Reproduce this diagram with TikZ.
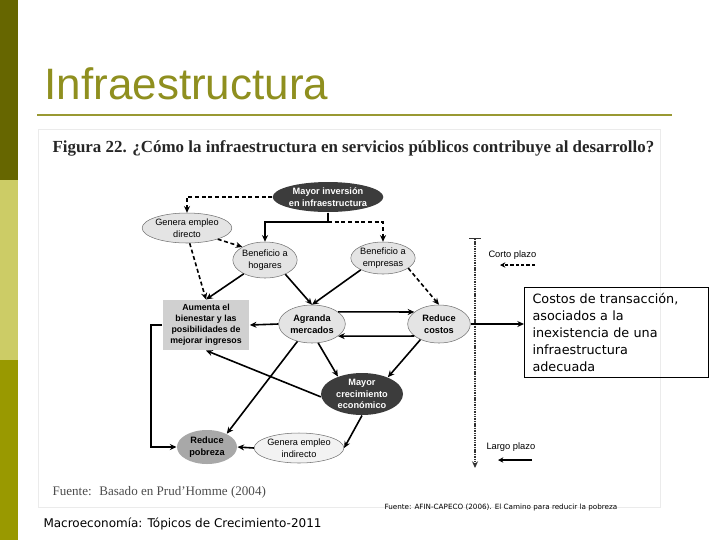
\documentclass[tikz,border=0pt]{standalone}
\usepackage{fontspec}
\setmainfont{Liberation Sans}
\newfontfamily\figserif{Liberation Serif}
\newfontfamily\verdfont{DejaVu Sans}
\usetikzlibrary{shapes.geometric,arrows.meta}

\definecolor{olivedark}{RGB}{102,102,0}
\definecolor{olivelight}{RGB}{204,204,102}
\definecolor{olivemid}{RGB}{153,153,0}
\definecolor{titleolive}{RGB}{143,143,31}
\definecolor{ruleolive}{RGB}{153,153,51}
\definecolor{nodedark}{RGB}{60,60,60}
\definecolor{nodelight}{RGB}{228,228,228}
\definecolor{nodemid}{RGB}{168,168,168}
\definecolor{boxgrey}{RGB}{208,208,208}

\tikzset{every picture/.style={line width=0.75pt}}
\tikzset{
  darkell/.style={ellipse, fill=nodedark, text=white, inner sep=0pt, align=center,
    font=\fontsize{6.9}{8.6}\selectfont\bfseries},
  lightell/.style={ellipse, draw=black!55, line width=0.4pt, fill=nodelight, inner sep=0pt,
    align=center, font=\fontsize{6.9}{8.6}\selectfont},
  boldell/.style={lightell, font=\fontsize{6.9}{8.6}\selectfont\bfseries},
  greybox/.style={rectangle, fill=boxgrey, inner sep=0pt, align=center,
    font=\fontsize{6.6}{8.25}\selectfont\bfseries},
  arr/.style={-{Stealth[length=5pt,width=4.5pt]}, line width=1.2pt},
  darr/.style={arr, dash pattern=on 3pt off 2pt},
}

\begin{document}
\begin{tikzpicture}[x=0.75pt,y=0.75pt,yscale=-1,xscale=1]
        \useasboundingbox (0,0) rectangle (720,540);
        % side bar and title
        \fill[olivedark] (0,0) rectangle (18,180);
        \fill[olivelight] (0,180) rectangle (18,360);
        \fill[olivemid] (0,360) rectangle (18,540);
        \draw (44,99) node [anchor=base west][inner sep=0pt, text=titleolive, font=\fontsize{33}{36}\selectfont] (ttl) {Infraestructura};
        \draw[ruleolive, line width=2.2pt] (37,115) -- (672,115);
        \draw[black!8, line width=0.5pt] (38,129) rectangle (660,507);

        \draw (52,152) node [anchor=base west][inner sep=0pt, text=black!85, font=\figserif\bfseries\fontsize{12.7}{14}\selectfont] (fig) {Figura 22. ¿Cómo la infraestructura en servicios públicos contribuye al desarrollo?};

        % nodes
        \draw (328,197) node [darkell, minimum width=75pt, minimum height=22.5pt] (inv) {Mayor inversión\\en infraestructura};
        \draw (187,228) node [lightell, minimum width=60pt, minimum height=22.5pt] (gen) {Genera empleo\\directo};
        \draw (265,260) node [lightell, minimum width=42pt, minimum height=27pt] (hog) {Beneficio a\\hogares};
        \draw (383,258) node [lightell, minimum width=48pt, minimum height=24pt] (emp) {Beneficio a\\empresas};
        \draw (206,325) node [greybox, minimum width=65pt, minimum height=37.5pt] (aum) {Aumenta el\\bienestar y las\\posibilidades de\\mejorar ingresos};
        \draw (312,324) node [boldell, minimum width=50pt, minimum height=28.5pt] (agr) {Agranda\\mercados};
        \draw (439,324) node [boldell, minimum width=47pt, minimum height=28.5pt] (red) {Reduce\\costos};
        \draw (362,394) node [darkell, minimum width=61.5pt, minimum height=31.5pt] (cre) {Mayor\\crecimiento\\económico};
        \draw (207,447) node [darkell, fill=nodemid, text=black, minimum width=45pt, minimum height=25.5pt] (pob) {Reduce\\pobreza};
        \draw (299,448) node [lightell, fill=black!5, minimum width=57pt, minimum height=22.5pt] (ind) {Genera empleo\\indirecto};
        \coordinate (jn) at (328,222);

        % links
        \draw[darr] (inv.west) -| (gen.north);
        \draw[arr] (inv.south) -- (jn) -| (hog.north);
        \draw[darr] (jn) -| (emp.north);
        \draw[darr] (gen.-20) -- (hog.150);
        \draw[darr] (gen.-80) -- (aum.north);
        \draw[arr] (hog.213) -- (aum.north);
        \draw[arr] (hog.-35) -- (agr.north);
        \draw[arr] (emp.208) -- (agr.north);
        \draw[darr] (emp.-22) -- (red.north);
        \draw[arr] (agr.25) -- (red.154);
        \draw[arr] (red.206) -- (agr.-25);
        \draw[arr] (agr.west) -- (aum.east);
        \draw[arr] (agr.-72) -- (cre.144);
        \draw[arr] (red.220) -- (cre.33);
        \draw[arr] (cre.184) -- (aum.south);
        \draw[arr] (agr.230) -- (pob.34);
        \draw[arr] (cre.south) -- (ind.east);
        \draw[arr] (ind.west) -- (pob.west -| pob.east);
        \draw[arr] (aum.west) -- ++(-11,0) |- (pob.west);

        % time axis
        \coordinate (tup) at (475,238);
        \coordinate (tdn) at (475,468);
        \draw[black!80, line width=1.4pt, dash pattern=on 0.8pt off 0.5pt, {Bar[width=9pt,line width=1pt]}-{Stealth[length=5pt,width=4.5pt]}] (tup) -- (tdn);
        \draw (488,255) node [anchor=west][inner sep=0pt, font=\fontsize{7}{8}\selectfont] (corto) {Corto plazo};
        \coordinate (ca) at (535,265);
        \coordinate (cb) at (500,265);
        \draw[-{Stealth[length=4pt,width=4pt]}, line width=1pt, dash pattern=on 2.5pt off 1.5pt] (ca) -- (cb);
        \draw (486,447) node [anchor=west][inner sep=0pt, font=\fontsize{7}{8}\selectfont] (largo) {Largo plazo};
        \coordinate (la) at (532,460);
        \coordinate (lb) at (498,460);
        \draw[-{Stealth[length=4pt,width=4pt]}, line width=1.1pt] (la) -- (lb);

        % note box
        \draw (524,287) node [anchor=north west, draw, line width=0.75pt, text width=126pt, inner xsep=6pt, inner ysep=3pt, minimum height=67.5pt, align=left, font=\verdfont\fontsize{9.6}{12.75}\selectfont] (cbox) {Costos de transacción,\\asociados a la\\inexistencia de una\\infraestructura\\adecuada};
        \draw[-{Stealth[length=5pt,width=4.5pt]}, line width=1.2pt] (red.east) -- (red.east -| cbox.west);

        % sources
        \draw (52,495) node [anchor=base west][inner sep=0pt, text=black!70, font=\figserif\fontsize{9.8}{11}\selectfont] (src) {Fuente:~ Basado en Prud’Homme (2004)};
        \draw (384,509) node [anchor=base west][inner sep=0pt, font=\verdfont\fontsize{5.4}{6}\selectfont] (src2) {Fuente: AFIN-CAPECO (2006). El Camino para reducir la pobreza};
        \draw (43,527) node [anchor=base west][inner sep=0pt, font=\verdfont\fontsize{9}{11}\selectfont] (foot) {Macroeconomía: Tópicos de Crecimiento-2011};
\end{tikzpicture}
\end{document}
